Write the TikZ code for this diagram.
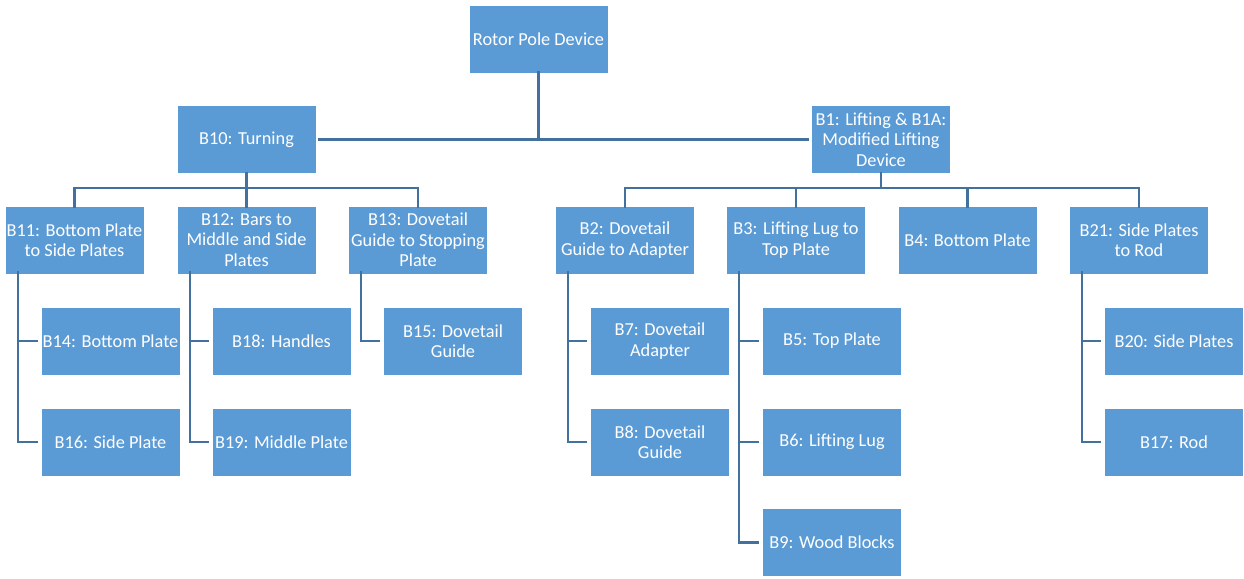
\documentclass[tikz,border=0pt]{standalone}
\usepackage{fontspec}
\setmainfont{Carlito}
\definecolor{boxfill}{HTML}{5B9BD5}
\definecolor{linecol}{HTML}{41719C}
\begin{document}
\begin{tikzpicture}[x=1pt,y=-1pt,
  box/.style={rectangle, fill=boxfill, draw=white, line width=0.6pt, minimum width=139pt, minimum height=68pt, inner sep=0pt, align=center, text=white, font=\fontsize{18.3}{20.5}\selectfont},
  conn/.style={draw=linecol, line width=2.3pt}]
\useasboundingbox (0,0) rectangle (1244,578);
% level 0,1
\node[box] (root) at (538.5,39) {Rotor Pole Device};
\node[box] (B10) at (246.5,139.5) {B10: Turning};
\node[box] (B1) at (881,139.5) {B1: Lifting \& B1A:\\Modified Lifting\\Device};
% level 2
\node[box] (B11) at (74.5,240) {B11: Bottom Plate\\to Side Plates};
\node[box] (B12) at (246.5,240) {B12: Bars to\\Middle and Side\\Plates};
\node[box] (B13) at (418,240) {B13: Dovetail\\Guide to Stopping\\Plate};
\node[box] (B2) at (625,240) {B2: Dovetail\\Guide to Adapter};
\node[box] (B3) at (796,240) {B3: Lifting Lug to\\Top Plate};
\node[box] (B4) at (967.5,240) {B4: Bottom Plate};
\node[box] (B21) at (1139,240) {B21: Side Plates\\to Rod};
% level 3
\node[box] (B14) at (110.5,341) {B14: Bottom Plate};
\node[box] (B16) at (110.5,442) {B16: Side Plate};
\node[box] (B18) at (281.5,341) {B18: Handles};
\node[box] (B19) at (281.5,442) {B19: Middle Plate};
\node[box] (B15) at (453,341) {B15: Dovetail\\Guide};
\node[box] (B7) at (660,341) {B7: Dovetail\\Adapter};
\node[box] (B8) at (660,442) {B8: Dovetail\\Guide};
\node[box] (B5) at (832,341) {B5: Top Plate};
\node[box] (B6) at (832,442) {B6: Lifting Lug};
\node[box] (B9) at (832,542.5) {B9: Wood Blocks};
\node[box] (B20) at (1174,341) {B20: Side Plates};
\node[box] (B17) at (1174,442) {B17: Rod};
% connectors
\path[conn] ([yshift=2pt]root.south) -- (root.south |- B10.east);
\path[conn] ([xshift=2pt]B10.east) -- ([xshift=-2pt]B1.west);
\foreach \c in {B11,B12,B13}{
  \path[conn] ([yshift=2pt]B10.south) -- ++(0,16) -| ([yshift=-2pt]\c.north);
}
\foreach \c in {B2,B3,B4,B21}{
  \path[conn] ([yshift=2pt]B1.south) -- ++(0,16) -| ([yshift=-2pt]\c.north);
}
\path[conn] ([xshift=13pt,yshift=3pt]B11.south west) |- ([xshift=-3pt]B14.west);
\path[conn] ([xshift=13pt,yshift=3pt]B11.south west) |- ([xshift=-3pt]B16.west);
\path[conn] ([xshift=13pt,yshift=3pt]B12.south west) |- ([xshift=-3pt]B18.west);
\path[conn] ([xshift=13pt,yshift=3pt]B12.south west) |- ([xshift=-3pt]B19.west);
\path[conn] ([xshift=13pt,yshift=3pt]B13.south west) |- ([xshift=-3pt]B15.west);
\path[conn] ([xshift=13pt,yshift=3pt]B2.south west) |- ([xshift=-3pt]B7.west);
\path[conn] ([xshift=13pt,yshift=3pt]B2.south west) |- ([xshift=-3pt]B8.west);
\path[conn] ([xshift=13pt,yshift=3pt]B3.south west) |- ([xshift=-3pt]B5.west);
\path[conn] ([xshift=13pt,yshift=3pt]B3.south west) |- ([xshift=-3pt]B6.west);
\path[conn] ([xshift=13pt,yshift=3pt]B3.south west) |- ([xshift=-3pt]B9.west);
\path[conn] ([xshift=13pt,yshift=3pt]B21.south west) |- ([xshift=-3pt]B20.west);
\path[conn] ([xshift=13pt,yshift=3pt]B21.south west) |- ([xshift=-3pt]B17.west);
\end{tikzpicture}
\end{document}
